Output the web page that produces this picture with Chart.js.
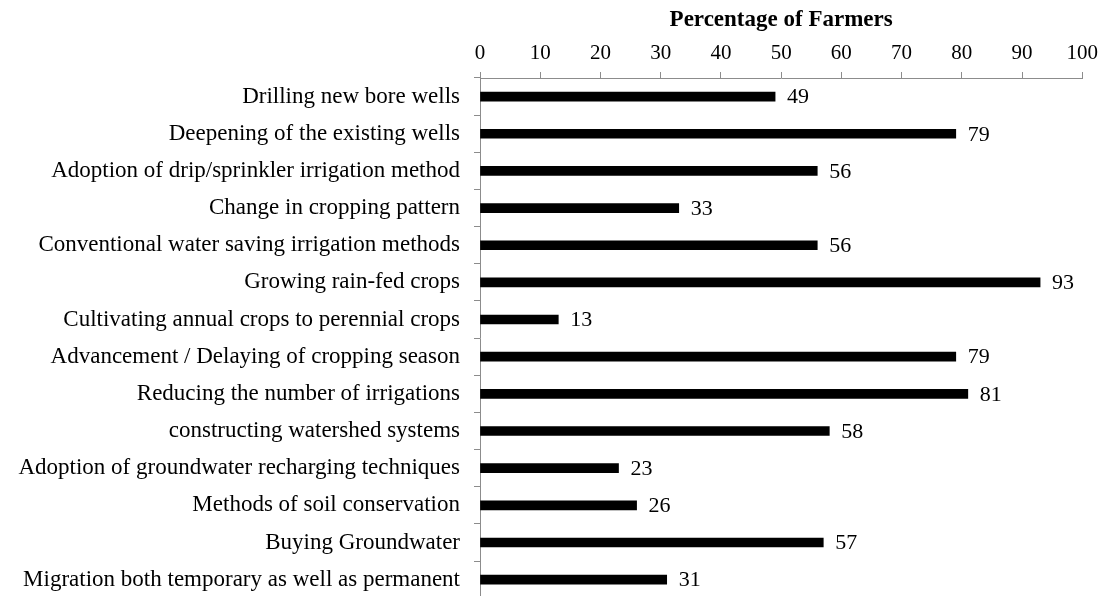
<!DOCTYPE html>
<html>
<head>
<meta charset="utf-8">
<script src="https://cdn.jsdelivr.net/npm/chart.js@4"></script>
<style>
  body { margin: 0; background: #fff; overflow: hidden; }
  #wrap { width: 1104px; height: 596px; overflow: hidden; }
</style>
</head>
<body>
<!-- Canvas etwas höher als das Fenster: die Achse läuft in der Vorlage bis zum unteren Rand -->
<div id="wrap"><canvas id="chart" width="1104" height="626"></canvas></div>
<script>
// Daten aus der Vorlage
const categories = [
    'Drilling new bore wells',
    'Deepening of the existing wells',
    'Adoption of drip/sprinkler irrigation method',
    'Change in cropping pattern',
    'Conventional water saving irrigation methods',
    'Growing rain-fed crops',
    'Cultivating annual crops to perennial crops',
    'Advancement / Delaying of cropping season',
    'Reducing the number of irrigations',
    'constructing watershed systems',
    'Adoption of groundwater recharging techniques',
    'Methods of soil conservation',
    'Buying Groundwater',
    'Migration both temporary as well as permanent'
];
const farmerPercent = [49, 79, 56, 33, 56, 93, 13, 79, 81, 58, 23, 26, 57, 31];
const axisTitle = 'Percentage of Farmers';

const serif = "'Liberation Serif', 'Times New Roman', serif";
const axisGray = '#8c8c8c';

// Werte rechts neben die Balken schreiben
const valueLabels = {
    id: 'valueLabels',
    afterDatasetsDraw(chart) {
        const ctx = chart.ctx;
        const meta = chart.getDatasetMeta(0);
        ctx.save();
        ctx.font = '22px ' + serif;
        ctx.fillStyle = '#000';
        ctx.textAlign = 'left';
        ctx.textBaseline = 'middle';
        meta.data.forEach((bar, i) => {
            ctx.fillText(String(farmerPercent[i]), bar.x + 12, bar.y + 1);
        });
        ctx.restore();
    }
};

new Chart(document.getElementById('chart'), {
    type: 'bar',
    data: {
        labels: categories,
        datasets: [{
            data: farmerPercent,
            backgroundColor: '#000',
            borderWidth: 0,
            barThickness: 9
        }]
    },
    options: {
        indexAxis: 'y',
        responsive: false,
        animation: false,
        layout: { padding: { top: 0, right: 21, bottom: 0, left: 0 } },
        plugins: {
            legend: { display: false },
            tooltip: { enabled: false }
        },
        scales: {
            x: {
                position: 'top',
                min: 0,
                max: 100,
                ticks: {
                    stepSize: 10,
                    color: '#000',
                    font: { family: serif, size: 21 },
                    padding: 6
                },
                grid: {
                    drawOnChartArea: false,
                    tickLength: 6,
                    color: axisGray
                },
                border: { color: axisGray },
                title: {
                    display: true,
                    text: axisTitle,
                    color: '#000',
                    font: { family: serif, size: 23, weight: 'bold' },
                    padding: { top: 6, bottom: 4 }
                },
                afterFit(scale) { scale.height = 78; }
            },
            y: {
                ticks: {
                    color: '#000',
                    font: { family: serif, size: 23 },
                    padding: 14,
                    autoSkip: false
                },
                grid: {
                    drawOnChartArea: false,
                    offset: true,
                    tickLength: 6,
                    color: axisGray
                },
                border: { color: axisGray },
                afterFit(scale) { scale.width = 480; }
            }
        }
    },
    plugins: [valueLabels]
});
</script>
</body>
</html>
